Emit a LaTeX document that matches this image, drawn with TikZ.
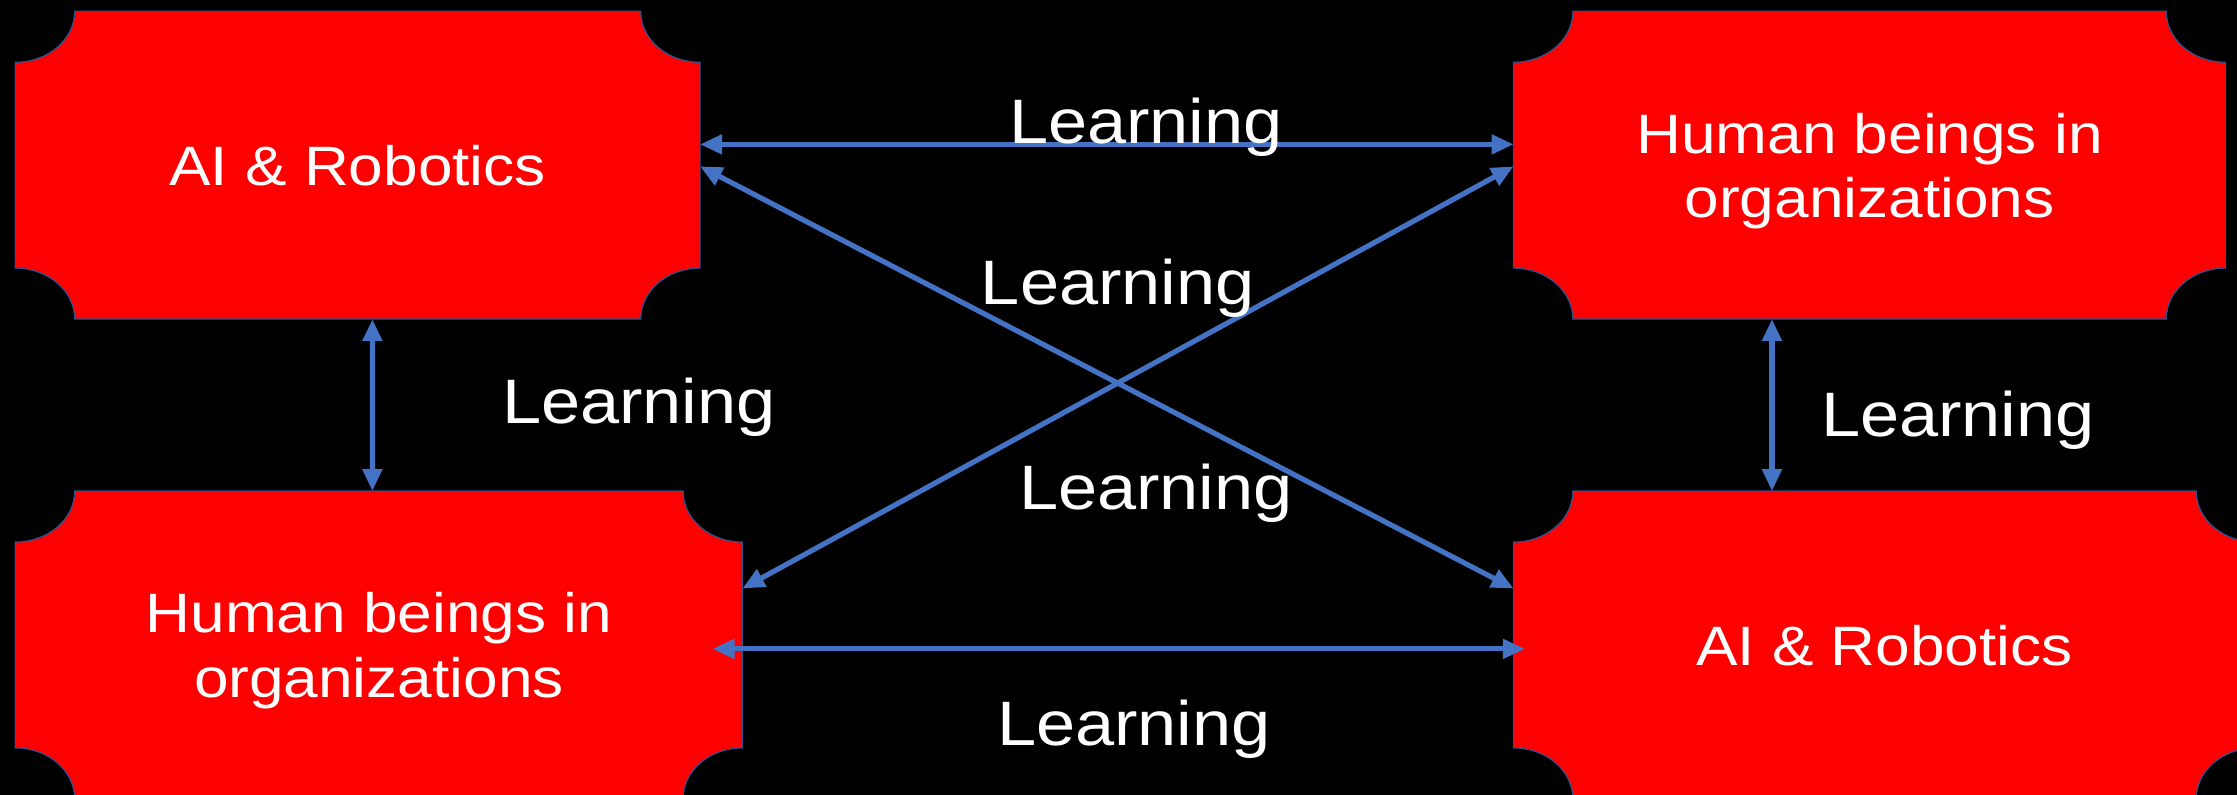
\documentclass[tikz,border=0pt]{standalone}
\usepackage{fontspec}
\setmainfont[FakeStretch=1.12]{Liberation Sans}
\usetikzlibrary{arrows.meta,backgrounds}
\definecolor{plaquered}{HTML}{FF0000}
\definecolor{plaqueedge}{HTML}{2F528F}
\definecolor{linkblue}{HTML}{4472C4}

\begin{document}
\begin{tikzpicture}
  \newcommand{\boxheight}[0]{153.5pt}
  \newcommand{\cornerx}[0]{29.7pt}
  \newcommand{\cornery}[0]{25.5pt}
  \newcommand{\colgap}[0]{406.7pt}
  \newcommand{\rowgap}[0]{86pt}

  \coordinate (origo) at (0,0);
  \useasboundingbox (origo) rectangle (1118.5pt,-397.5pt);

  \tikzstyle{plaque}=[
    anchor=north west,
    align=center,
    text=white,
    inner sep=0pt,
    text depth=0pt,
    font=\fontsize{27.75pt}{32.15pt}\selectfont,
    minimum height=\boxheight,
  ]
  \tikzstyle{plaqueline}=[
    fill=plaquered,
    draw=plaqueedge,
    line width=0.6pt,
  ]
  \tikzstyle{learn}=[
    anchor=base,
    text=white,
    inner sep=0pt,
    font=\fontsize{31.4pt}{36pt}\selectfont,
  ]
  \tikzstyle{link}=[
    draw=linkblue,
    line width=2.6pt,
    <->,
    >={Triangle[length=11pt,width=9.5pt]},
  ]

  % top row
  \node[plaque,minimum width=342pt] (aiI)
    at ([xshift=7.65pt,yshift=-5.65pt] origo) {AI \& Robotics};
  \node[plaque,minimum width=355.65pt] (humI)
    at ([xshift=\colgap] aiI.north east) {Human beings in\\organizations};

  % bottom row
  \node[plaque,minimum width=363.2pt] (humII)
    at ([yshift=-\rowgap] aiI.south west) {Human beings in\\organizations};
  \node[plaque,minimum width=370.65pt] (aiII)
    at ([yshift=-\rowgap] humI.south west) {AI \& Robotics};

  % plaque shapes behind the text
  \begin{scope}[on background layer]
    \clip (origo) rectangle (1118.5pt,-397.5pt);
    \fill[black] (origo) rectangle (1118.5pt,-397.5pt);
    \foreach \n in {aiI,humI,humII,aiII}
      \draw[plaqueline] ([xshift=\cornerx] \n.north west) -- ([xshift=-\cornerx] \n.north east)
        arc[start angle=180, end angle=270, x radius=\cornerx, y radius=\cornery]
        -- ([yshift=\cornery] \n.south east)
        arc[start angle=90, end angle=180, x radius=\cornerx, y radius=\cornery]
        -- ([xshift=\cornerx] \n.south west)
        arc[start angle=0, end angle=90, x radius=\cornerx, y radius=\cornery]
        -- ([yshift=-\cornery] \n.north west)
        arc[start angle=270, end angle=360, x radius=\cornerx, y radius=\cornery]
        -- cycle;
  \end{scope}

  % links
  \draw[link] ([yshift=10.4pt] aiI.east) -- ([yshift=10.4pt] humI.west);
  \draw[link] ([yshift=-0.6pt] aiI.east) -- ([yshift=28.25pt] aiII.west);
  \draw[link] ([yshift=-0.6pt] humI.west) -- ([yshift=28.25pt] humII.east);
  \draw[link] ([xshift=-15pt,yshift=-1.95pt] humII.east) -- ([xshift=5.65pt,yshift=-1.95pt] aiII.west);
  \draw[link] ([xshift=7.35pt] aiI.south) -- ([xshift=-3.25pt] humII.north);
  \draw[link] ([xshift=-48.8pt] humI.south) -- ([xshift=-56.3pt] aiII.north);

  % labels
  \node[learn] (lnTop)   at ([xshift=573pt,yshift=-72pt] origo) {Learning};
  \node[learn] (lnUpper) at ([xshift=558.9pt,yshift=-152.5pt] origo) {Learning};
  \node[learn] (lnLeft)  at ([xshift=319.5pt,yshift=-212pt] origo) {Learning};
  \node[learn] (lnLower) at ([xshift=578pt,yshift=-255pt] origo) {Learning};
  \node[learn] (lnRight) at ([xshift=979pt,yshift=-218.35pt] origo) {Learning};
  \node[learn] (lnBottom) at ([xshift=567pt,yshift=-372.5pt] origo) {Learning};
\end{tikzpicture}
\end{document}
